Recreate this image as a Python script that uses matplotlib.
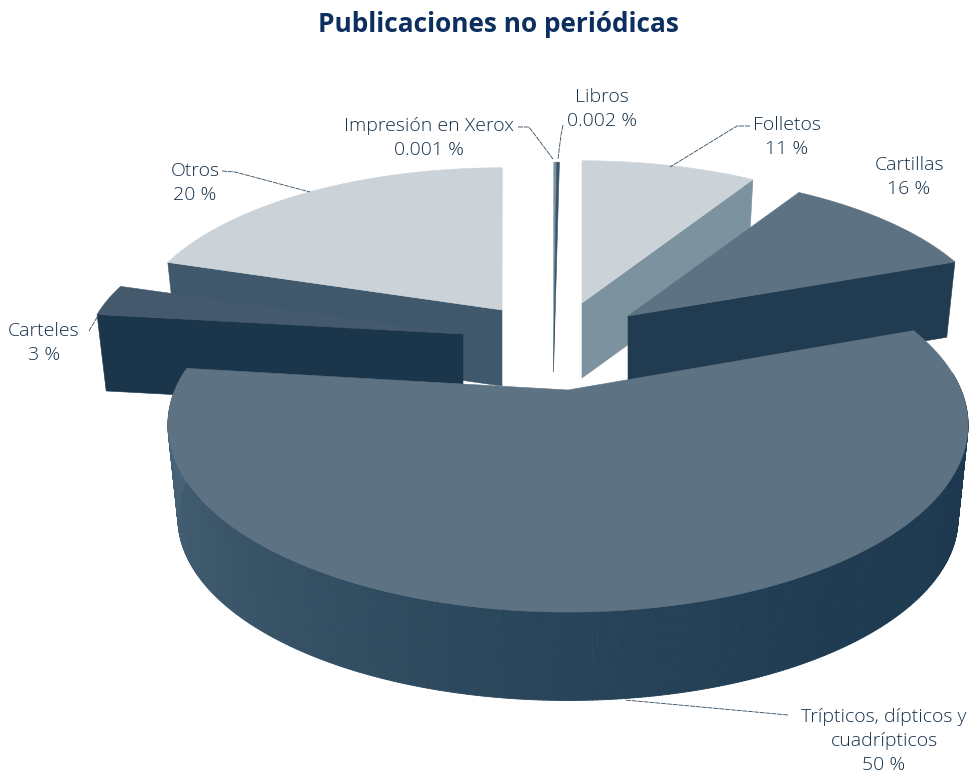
import numpy as np
import matplotlib
matplotlib.use("Agg")
import matplotlib.pyplot as plt
from matplotlib.collections import PolyCollection
from matplotlib.colors import LinearSegmentedColormap
from matplotlib.patches import Polygon

# ---- data (clockwise from the top of the pie) ----
categories = ["Folletos", "Cartillas", "Trípticos, dípticos y\ncuadrípticos",
              "Carteles", "Otros", "Impresión en Xerox", "Libros"]
values = [11, 16, 50, 3, 20, 0.001, 0.002]
value_text = ["11 %", "16 %", "50 %", "3 %", "20 %", "0.001 %", "0.002 %"]

# ---- artwork style: the original's slices do not sweep in strict proportion ----
sweep_factor = [0.795, 0.66, 1.153, 1.0, 1.003, 1.0, 1.0]
MIN_SWEEP = 0.5
apex = [(582, 303), (628, 316), (568, 390), (463, 334), (502, 310), (553.5, 372), (553.5, 372)]
# horizontal radius, vertical radius, perspective strength
shape = [(366, 162, .139), (366, 162, .139), (393, 180.5, .187), (375, 162, .139),
         (366, 162, .139), (366, 239, .139), (366, 239, .139)]
depth = [75, 74, 94, 76, 76, 0, 0]
SHRINK = 0.975
top_col = ["#cbd3d9", "#5d7384", "#5d7384", "#44596c", "#cbd3d9", "#7b93a2", "#3a5569"]
cut_col = ["#7d929f", "#213b50", None, "#1b364b", "#3f586b", None, None]
cut_side = ["end", "end", None, "start", "start", None, None]
draw_order = [4, 5, 6, 0, 1, 3, 2]
rim_cmap = LinearSegmentedColormap.from_list(
    "rim", ["#1d384e", "#1f3b51", "#2b475c", "#3c576b", "#4d687c"])

label_pos = [(787, 137), (909, 177), (884, 741), (44, 343), (195, 183), (429, 138), (602, 109)]
leaders = [[(750, 126), (737, 126), (670, 167)],
           [], [(788, 715), (625, 700)],
           [(89, 331), (99, 314)],
           [(222, 171), (235, 172), (310, 192)],
           [(518, 127), (529, 127), (553, 159)],
           [(563, 125), (561, 135), (558, 159)]]
TXT = "#14304a"

plt.rcParams["font.family"] = ["Open Sans", "DejaVu Sans"]
fig = plt.figure(figsize=(9.73, 7.73), dpi=100)
ax = fig.add_axes([0, 0, 1, 1])
ax.set_xlim(0, 973)
ax.set_ylim(773, 0)
ax.axis("off")


def rim_xy(theta_deg, shp):
    t = np.radians(theta_deg)
    A, B, k = shp
    w = 1 + k * np.cos(t)
    return A * np.sin(t) / w, -B * np.cos(t) / w


sweeps = [max(v * 3.6 * f, MIN_SWEEP) for v, f in zip(values, sweep_factor)]
edges = np.concatenate([[0], np.cumsum(sweeps)])

for i in draw_order:
    a0, a1 = edges[i], edges[i + 1]
    th = np.linspace(a0, a1, max(int((a1 - a0) * 2), 2) + 1)
    u, v = rim_xy(th, shape[i])
    ax0, ay0 = apex[i]
    D = depth[i]
    if D > 0:
        # outer wall, only where it faces the viewer, shaded strip by strip
        quads, shades = [], []
        for j in range(len(th) - 1):
            if np.cos(np.radians(th[j])) > 0.1:
                continue
            quads.append([(ax0 + u[j], ay0 + v[j]), (ax0 + u[j + 1], ay0 + v[j + 1]),
                          (ax0 + SHRINK * u[j + 1], ay0 + D + SHRINK * v[j + 1]),
                          (ax0 + SHRINK * u[j], ay0 + D + SHRINK * v[j])])
            shades.append(np.clip((th[j] - 100) / 180, 0, 1))
        if quads:
            ax.add_collection(PolyCollection(quads, array=np.array(shades), cmap=rim_cmap,
                                             clim=(0, 1), edgecolors="face", linewidths=0.6))
    if cut_side[i]:
        n = 0 if cut_side[i] == "start" else -1
        ax.add_patch(Polygon([(ax0, ay0), (ax0 + u[n], ay0 + v[n]),
                              (ax0 + SHRINK * u[n], ay0 + D + SHRINK * v[n]), (ax0, ay0 + D)],
                             closed=True, fc=cut_col[i], ec=cut_col[i], lw=0.4))
    ax.add_patch(Polygon(np.column_stack([np.r_[ax0, ax0 + u], np.r_[ay0, ay0 + v]]),
                         closed=True, fc=top_col[i], ec=top_col[i], lw=0.4))

for name, val, (x, y), pts in zip(categories, value_text, label_pos, leaders):
    ax.text(x, y, name + "\n" + val, ha="center", va="center", fontsize=14,
            fontweight=300, color=TXT, linespacing=1.42)
    if pts:
        xs, ys = zip(*pts)
        ax.plot(xs, ys, color="#2f485c", lw=0.6, ls=(0, (6, 1)))

ax.text(498, 24, "Publicaciones no periódicas", ha="center", va="center",
        fontsize=18.9, fontweight="bold", color="#0d2f5f")

fig.savefig("out.png", dpi=100)
